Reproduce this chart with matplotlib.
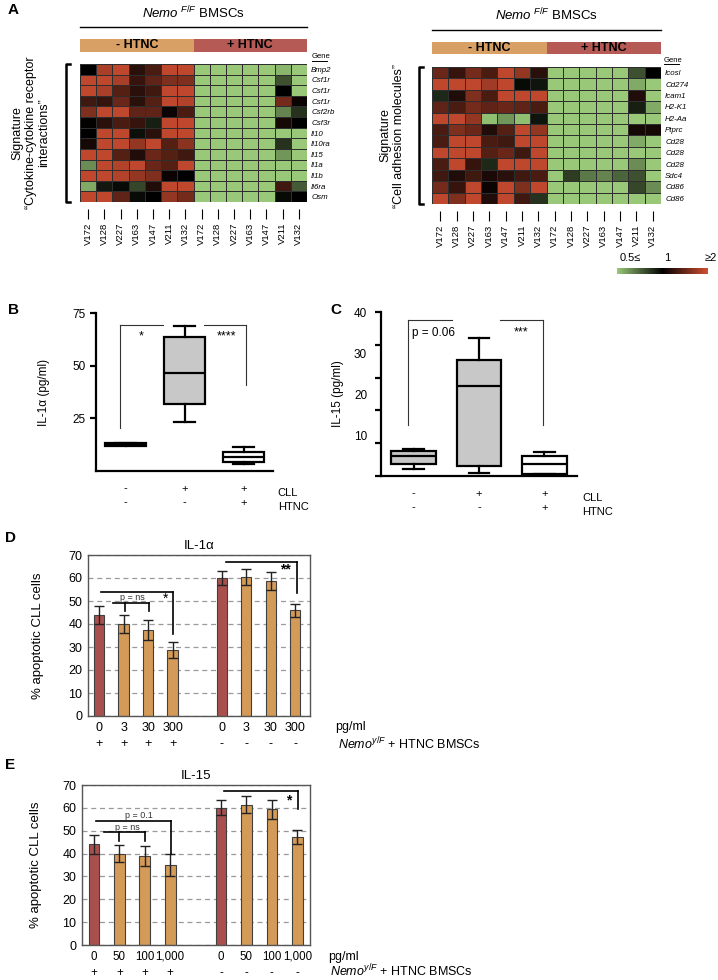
import numpy as np
import matplotlib
matplotlib.use("Agg")
import matplotlib.pyplot as plt
from matplotlib.colors import LinearSegmentedColormap

plt.rcParams['font.family'] = ['Liberation Sans', 'DejaVu Sans']
plt.rcParams['mathtext.fontset'] = 'custom'
plt.rcParams['mathtext.rm'] = 'Liberation Sans'
plt.rcParams['mathtext.it'] = 'Liberation Sans:italic'

W, H = 718, 980

# ---- data: panel A heatmaps (log2 fold, -1 = 0.5, 0 = 1, +1 = 2) ----
samples = ["V172", "V128", "V227", "V163", "V147", "V211", "V132"] * 2
left_genes = ["Bmp2", "Csf1r", "Csf1r", "Csf1r", "Csf2rb", "Csf3r", "Il10",
              "Il10ra", "Il15", "Il1a", "Il1b", "Il6ra", "Osm"]
left_values = [
    [0.0, 0.8, 0.9, 0.2, 0.35, 0.9, 0.9, -1, -1, -1, -1, -1, -0.9, -1],
    [0.9, 0.9, 0.8, 0.25, 0.45, 0.6, 0.6, -1, -1, -1, -1, -1, -0.4, -1],
    [0.9, 0.8, 0.4, 0.2, 0.3, 0.9, 0.9, -1, -1, -1, -1, -1, 0.0, -1],
    [0.3, 0.25, 0.5, 0.2, 0.4, 0.9, 0.85, -1, -1, -1, -1, -1, 0.55, 0.05],
    [0.6, 0.9, 0.9, 0.45, 0.45, 0.05, 0.35, -1, -1, -1, -1, -1, -0.65, -0.25],
    [0.02, 0.2, 0.35, 0.25, -0.15, 0.9, 0.9, -1, -1, -1, -1, -1, 0.1, 0.0],
    [0.0, 0.9, 0.9, -0.08, 0.2, 0.9, 0.9, -1, -1, -1, -1, -1, -1, -1],
    [0.1, 0.9, 0.9, 0.7, 0.9, 0.4, 0.65, -1, -1, -1, -1, -1, -0.25, -1],
    [0.9, 0.9, 0.4, 0.15, 0.5, 0.4, 0.3, -1, -1, -1, -1, -1, -0.75, -1],
    [-0.7, 0.9, 0.85, 0.9, 0.5, 0.4, 0.9, -1, -1, -1, -1, -1, -1, -1],
    [0.9, 0.9, 0.85, 0.7, 0.6, 0.05, 0.0, -1, -1, -1, -1, -1, -1, -1],
    [-0.85, -0.12, -0.05, -0.35, 0.15, 0.9, 0.9, -1, -1, -1, -1, -1, 0.3, -0.45],
    [0.9, 0.9, 0.45, -0.05, 0.0, 0.7, 0.55, -1, -1, -1, -1, -1, -0.05, 0.0],
]
right_genes = ["Icosl", "Cd274", "Icam1", "H2-K1", "H2-Aa", "Ptprc", "Cd28",
               "Cd28", "Cd28", "Sdc4", "Cd86", "Cd86"]
right_values = [
    [0.5, 0.25, 0.55, 0.35, 0.9, 0.7, 0.2, -1, -1, -1, -1, -1, -0.4, 0.0],
    [0.9, 0.9, 0.9, 0.75, 0.9, -0.05, -0.1, -1, -1, -1, -1, -1, -0.85, -1],
    [-0.2, 0.15, 0.6, 0.35, 0.9, 0.9, 0.9, -1, -1, -1, -1, -1, 0.15, -1],
    [0.45, 0.35, 0.55, 0.45, 0.5, 0.45, 0.35, -1, -1, -1, -1, -1, -0.15, -0.85],
    [0.9, 0.9, 0.7, -0.95, -0.75, -0.95, -0.1, -1, -1, -1, -1, -1, -1, -1],
    [0.35, 0.6, 0.5, 0.15, 0.4, 0.9, 0.7, -1, -1, -1, -1, -1, 0.1, 0.1],
    [0.35, 0.9, 0.9, 0.35, 0.3, 0.9, 0.9, -1, -1, -1, -1, -1, -0.85, -1],
    [0.9, 0.9, 0.9, 0.4, 0.5, 0.3, 0.9, -1, -1, -1, -1, -1, -1, -1],
    [0.35, 0.9, 0.25, -0.2, 0.9, 0.9, 0.9, -1, -1, -1, -1, -1, -0.7, -1],
    [0.3, 0.15, 0.3, 0.12, 0.2, 0.3, 0.35, -1, -0.3, -0.6, -0.65, -0.5, -0.4, -1],
    [0.55, 0.25, 0.9, 0.05, 0.9, 0.6, 0.9, -1, -1, -1, -1, -1, -0.35, -0.7],
    [0.9, 0.6, 0.9, 0.15, 0.9, 0.3, -0.25, -1, -1, -1, -1, -1, -1, -1],
]
group_labels = ["- HTNC", "+ HTNC"]
group_sizes = [7, 7]
group_colors = ["#D9A066", "#B65A55"]

# ---- data: panels B and C (box plot summaries) ----
box_groups = ["1", "2", "3"]
cll_signs = ["-", "+", "+"]
htnc_signs = ["-", "-", "+"]
il1a_box = {"whislo": [12.2, 23.3, 3.5], "q1": [12.0, 31.9, 4.3], "med": [12.7, 46.6, 6.8],
            "q3": [13.3, 63.5, 9.2], "whishi": [13.5, 69.0, 11.4]}
il15_box = {"whislo": [1.7, 0.65, 0.4], "q1": [2.85, 2.4, 0.56], "med": [4.95, 22.0, 2.85],
            "q3": [6.1, 28.2, 4.9], "whishi": [6.5, 33.6, 5.8]}
box_fill_b = ["#C8C8C8", "#C8C8C8", "white"]
box_fill_c = ["#C8C8C8", "#C8C8C8", "white"]

# ---- data: panels D and E (bar charts) ----
bar_pos = [0, 1, 2, 3, 5, 6, 7, 8]
d_doses = ["0", "3", "30", "300", "0", "3", "30", "300"]
d_values = [44.0, 40.0, 37.4, 28.7, 60.0, 60.5, 58.7, 46.0]
d_errors = [4.0, 3.7, 4.2, 3.5, 3.2, 3.6, 3.8, 2.8]
e_doses = ["0", "50", "100", "1,000", "0", "50", "100", "1,000"]
e_values = [44.0, 40.0, 38.9, 35.0, 60.1, 61.4, 59.3, 47.3]
e_errors = [4.0, 3.9, 4.5, 4.7, 3.2, 3.8, 4.3, 3.0]
nemo_signs = ["+", "+", "+", "+", "-", "-", "-", "-"]
bar_colors = ["#A9504F", "#D49A58", "#D49A58", "#D49A58",
              "#A9504F", "#D49A58", "#D49A58", "#D49A58"]


def rect(x0, y0, x1, y1):
    return [x0 / W, 1 - y1 / H, (x1 - x0) / W, (y1 - y0) / H]


def fline(fig, xs, ys, lw=1.0, color="k"):
    fig.add_artist(plt.Line2D([x / W for x in xs], [1 - y / H for y in ys],
                              transform=fig.transFigure, color=color, lw=lw))


def ftext(fig, x, y, s, **kw):
    fig.text(x / W, 1 - y / H, s, **kw)


def bracket(ax, x0, x1, y, drops, lw=1.0, color="k"):
    ax.plot([x0, x1], [y, y], color=color, lw=lw, clip_on=False)
    for xd, yd in drops:
        ax.plot([xd, xd], [y, yd], color=color, lw=lw, clip_on=False)


fig = plt.figure(figsize=(W / 100, H / 100), dpi=100)
cmap = LinearSegmentedColormap.from_list("gkr", ["#98C878", "#000000", "#D24E32"])

# ---------------- Panel A ----------------
heat_specs = [
    # values, genes, heat rect, strip rect, line y, title y, bracket x, signature, text x, gene x, gene y
    (left_values, left_genes, (80, 64, 307, 202), (80, 39, 307, 52), 27, 13, 66,
     "Signature\n\u201cCytokine-cytokine receptor\ninteractions\u201d", 31, 312, 57),
    (right_values, right_genes, (432, 67, 661, 204), (432, 42, 661, 54), 30, 15, 419,
     "Signature\n\u201cCell adhesion molecules\u201d", 392, 664, 60),
]
mesh = None
for vals, genes, hr, sr, line_y, title_y, brx, sig, sig_x, gene_x, gene_y in heat_specs:
    ax = fig.add_axes(rect(*hr))
    # move the tick line below the cells first (this resets tick styling)
    ax.spines["bottom"].set_position(("outward", 5))
    arr = np.array(vals)
    mesh = ax.pcolormesh(arr, cmap=cmap, vmin=-1, vmax=1, edgecolors="#2e2e2e", linewidth=0.6)
    ax.set_xlim(0, arr.shape[1])
    ax.set_ylim(arr.shape[0], 0)
    ax.set_xticks(np.arange(arr.shape[1]) + 0.5)
    ax.set_xticklabels(samples, rotation=90, fontsize=6.8)
    ax.yaxis.tick_right()
    ax.set_yticks(np.arange(arr.shape[0]) + 0.5)
    ax.set_yticklabels(genes, fontsize=5.7, fontstyle="italic")
    ax.tick_params(axis="y", length=0, pad=3)
    ax.tick_params(axis="x", length=7, width=0.8, pad=3)
    for s in ax.spines.values():
        s.set_visible(False)

    # HTNC strip
    sax = fig.add_axes(rect(*sr))
    left = 0
    for lab, n, c in zip(group_labels, group_sizes, group_colors):
        sax.barh([0], [n], left=[left], height=1, color=c)
        sax.text(left + n / 2, 0, lab, ha="center", va="center", fontsize=9, fontweight="bold")
        left += n
    sax.set_xlim(0, sum(group_sizes))
    sax.set_ylim(-0.5, 0.5)
    sax.set_axis_off()

    # title with line
    ftext(fig, (hr[0] + hr[2]) / 2, title_y, r"$Nemo^{\ F/F}$ BMSCs", ha="center", va="center", fontsize=9.5)
    fline(fig, [hr[0], hr[2]], [line_y, line_y], lw=1.0)

    # "Gene" header
    ftext(fig, gene_x, gene_y, "Gene", ha="left", va="center", fontsize=5.5)
    fline(fig, [gene_x, gene_x + 15], [gene_y + 4, gene_y + 4], lw=0.7)

    # left bracket
    fline(fig, [brx + 4, brx, brx, brx + 4], [hr[1], hr[1], hr[3], hr[3]], lw=1.8)
    ftext(fig, sig_x, (hr[1] + hr[3]) / 2, sig, rotation=90, ha="center", va="center",
          fontsize=9, multialignment="center", linespacing=1.15)

# colour scale
cax = fig.add_axes(rect(617, 268, 708, 274))
cb = fig.colorbar(mesh, cax=cax, orientation="horizontal")
cb.outline.set_visible(False)
cax.set_xticks([])
ftext(fig, 630, 258, "0.5\u2264", ha="center", va="center", fontsize=8)
ftext(fig, 667, 258, "1", ha="center", va="center", fontsize=8)
ftext(fig, 711, 258, "\u22652", ha="center", va="center", fontsize=8)

# ---------------- Panels B and C ----------------
box_specs = [
    (il1a_box, box_fill_b, (96, 313, 273, 471), 75, "IL-1\u03b1 (pg/ml)", -0.26, 0.71, 0.36),
    (il15_box, box_fill_c, (381, 312, 577, 476), 40, "IL-15 (pg/ml)", -0.19, 0.68, 0.32),
]
box_axes = []
for summ, fills, r, ytop, ylab, ylab_x, bw, cw in box_specs:
    ax = fig.add_axes(rect(*r))
    stats = []
    for i in range(len(box_groups)):
        stats.append({k: summ[k][i] for k in ["whislo", "q1", "med", "q3", "whishi"]})
    bp = ax.bxp(stats, positions=[1, 2, 3], widths=bw, capwidths=cw, patch_artist=True,
                showfliers=False,
                boxprops=dict(lw=1.6, edgecolor="k"), whiskerprops=dict(lw=1.6),
                capprops=dict(lw=1.6), medianprops=dict(color="k", lw=1.6))
    for patch, c in zip(bp["boxes"], fills):
        patch.set_facecolor(c)
    ax.set_xlim(0.5, 3.5)
    ax.set_ylim(0, ytop)
    for s in ["top", "right"]:
        ax.spines[s].set_visible(False)
    for s in ["left", "bottom"]:
        ax.spines[s].set_linewidth(1.6)
    ax.set_xticks([1, 2, 3])
    ax.set_xticklabels([c + "\n" + h for c, h in zip(cll_signs, htnc_signs)], fontsize=8, linespacing=1.5)
    ax.tick_params(axis="x", length=0, pad=9)
    ax.tick_params(axis="y", direction="out", length=4, width=1.6, labelsize=8.5)
    ax.set_ylabel(ylab, fontsize=8.5)
    ax.yaxis.set_label_coords(ylab_x, 0.5)
    ax.text(3.58, -0.105 * ytop, "CLL\nHTNC", ha="left", va="top", fontsize=8, linespacing=1.5)
    box_axes.append(ax)

axb, axc = box_axes
axb.set_yticks([25, 50, 75])
bracket(axb, 0.91, 1.64, 69.5, [(0.91, 20.5)], lw=0.8, color="#333333")
bracket(axb, 2.33, 3.04, 69.5, [(3.04, 41)], lw=0.8, color="#333333")
axb.text(1.26, 64, "*", ha="center", va="center", fontsize=9)
axb.text(2.72, 64, "****", ha="center", va="center", fontsize=9)

# panel C: tick marks every 8, labels every 10 (as in the original figure)
axc.set_yticks([0, 8, 16, 24, 32, 40])
axc.set_yticklabels(["", "", "", "", "", "40"], fontsize=8.5)
axc.set_yticks([10, 20, 30], minor=True)
axc.set_yticklabels(["10", "20", "30"], minor=True, fontsize=8.5)
axc.tick_params(axis="y", which="major", pad=6)
axc.tick_params(axis="y", which="minor", length=0, pad=6 + 4)
bracket(axc, 0.92, 1.58, 38, [(0.92, 12.4)], lw=0.8, color="#333333")
bracket(axc, 2.32, 2.98, 38, [(2.98, 12.4)], lw=0.8, color="#333333")
axc.text(0.98, 35, "p = 0.06", ha="left", va="center", fontsize=8.5)
axc.text(2.65, 35, "***", ha="center", va="center", fontsize=9)

# ---------------- Panels D and E ----------------
bar_specs = [
    (d_values, d_errors, d_doses, "IL-1\u03b1", (88, 555, 310, 716), -0.45, 8.6, -0.2, 9),
    (e_values, e_errors, e_doses, "IL-15", (82, 785, 310, 945), -0.47, 8.5, -0.175, 8.3),
]
bar_axes = []
for vals, errs, doses, title, r, xl, xr, ylab_x, xfs in bar_specs:
    ax = fig.add_axes(rect(*r))
    ax.yaxis.grid(True, ls=(0, (4, 3)), color="#9a9a9a", lw=0.9)
    ax.set_axisbelow(True)
    ax.bar(bar_pos, vals, width=0.42, color=bar_colors, edgecolor="#404040", lw=0.8,
           yerr=errs, capsize=3.5, error_kw=dict(elinewidth=1.0, ecolor="#222222", capthick=1.0))
    ax.set_xlim(xl, xr)
    ax.set_ylim(0, 70)
    ax.set_yticks(range(0, 71, 10))
    ax.set_xticks(bar_pos)
    ax.set_xticklabels([d + "\n" + s for d, s in zip(doses, nemo_signs)], fontsize=xfs, linespacing=1.5)
    ax.tick_params(axis="both", length=0)
    ax.tick_params(axis="y", pad=4, labelsize=9)
    ax.tick_params(axis="x", pad=4)
    for s in ax.spines.values():
        s.set_color("#555555")
        s.set_linewidth(1.0)
    ax.set_title(title, fontsize=9.5, pad=4)
    ax.set_ylabel("% apoptotic CLL cells", fontsize=9.5)
    ax.yaxis.set_label_coords(ylab_x, 0.5)
    bar_axes.append(ax)

axd, axe = bar_axes
bracket(axd, 0.08, 3.0, 53.9, [(3.0, 35.7)], lw=1.2)
bracket(axd, 0.57, 2.05, 49.1, [(1.07, 45.7), (2.05, 45.7)], lw=1.2)
axd.text(1.35, 51.7, "p = ns", ha="center", va="center", fontsize=6.5, color="#333333")
axd.text(2.7, 51.0, "*", ha="center", va="center", fontsize=10)
bracket(axd, 5.16, 8.05, 67, [(8.05, 53.5)], lw=1.2)
axd.text(7.6, 63.6, "**", ha="center", va="center", fontsize=10, fontweight="bold")

bracket(axe, 0.08, 3.03, 54.3, [(3.03, 39.7)], lw=1.2)
bracket(axe, 0.39, 2.0, 49.3, [(0.98, 45.4), (2.0, 45.4)], lw=1.2)
axe.text(1.77, 56.8, "p = 0.1", ha="center", va="center", fontsize=6.5, color="#333333")
axe.text(1.3, 51.5, "p = ns", ha="center", va="center", fontsize=6.5, color="#333333")
bracket(axe, 5.12, 8.03, 67.4, [(8.03, 59.4)], lw=1.2)
axe.text(7.68, 63.4, "*", ha="center", va="center", fontsize=10, fontweight="bold")

for x_pg, y_pg, x_nm, y_nm in [(335, 727, 338, 744), (328, 957, 330, 971)]:
    ftext(fig, x_pg, y_pg, "pg/ml", ha="left", va="center", fontsize=9)
    ftext(fig, x_nm, y_nm, r"$Nemo^{y/F}$ + HTNC BMSCs", ha="left", va="center", fontsize=9)

# panel letters
for lab, x, y in [("A", 8, 10), ("B", 8, 310), ("C", 330, 310), ("D", 5, 538), ("E", 5, 765)]:
    ftext(fig, x, y, lab, ha="left", va="center", fontsize=11, fontweight="bold")

fig.savefig("out.png", dpi=100)
